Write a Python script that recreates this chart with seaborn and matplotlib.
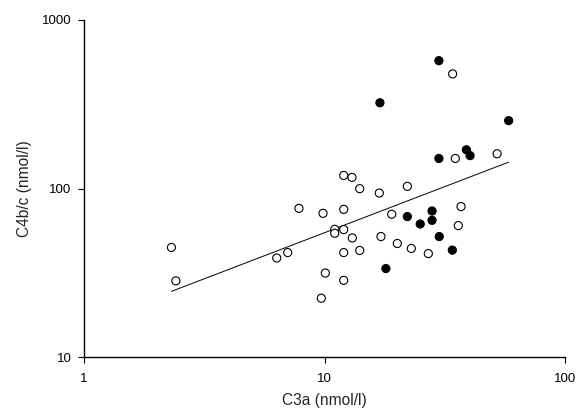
import matplotlib
matplotlib.use("Agg")
import matplotlib.pyplot as plt
import seaborn as sns
import pandas as pd
from matplotlib.ticker import FixedLocator, NullLocator, FixedFormatter

# Data
open_x = [2.31, 2.41, 6.33, 7.03, 7.83, 9.86, 9.70, 10.08, 11.03, 11.03,
          12.02, 13.01, 14.01, 12.02, 12.02, 13.05, 12.02, 14.01, 12.02,
          16.9, 17.17, 19.03, 22.1, 20.08, 22.96, 27.02, 36.95, 36.0,
          34.99, 52.2, 34.1]
open_y = [44.8, 28.4, 38.8, 41.8, 76.4, 71.4, 22.4, 31.6, 57.4, 54.4,
          119.8, 116.6, 100.0, 75.4, 57.2, 51.0, 41.8, 43.0, 28.6,
          94.2, 52.0, 70.5, 103.2, 47.3, 44.2, 41.2, 78.3, 60.4,
          151.0, 161.0, 479.0]
filled_x = [29.9, 17.0, 58.3, 29.9, 38.9, 40.3, 22.1, 25.0, 28.0, 28.0,
            30.0, 34.0, 18.0]
filled_y = [574.0, 323.0, 253.0, 151.0, 170.0, 157.0, 68.3, 61.7, 73.7,
            64.9, 52.0, 43.2, 33.6]
fit_x = [2.31, 58.3]
fit_y = [24.6, 143.6]

x_ticks = [1, 10, 100]
x_ticklabels = ["1", "10", "100"]
y_ticks = [10, 100, 1000]
y_ticklabels = ["10", "100", "1000"]

sns.set_style("white")
plt.rcParams["font.family"] = ["Liberation Sans", "DejaVu Sans"]

df = pd.DataFrame({
    "x": open_x + filled_x,
    "y": open_y + filled_y,
    "group": ["open"] * len(open_x) + ["filled"] * len(filled_x),
})
fit_df = pd.DataFrame({"x": fit_x, "y": fit_y})

fig = plt.figure(figsize=(5.88, 4.11), dpi=100)
ax = fig.add_axes([84 / 588, 1 - 357.3 / 411, (565 - 84) / 588, (357.3 - 20) / 411])

sns.lineplot(data=fit_df, x="x", y="y", ax=ax, color="black", linewidth=0.7,
             legend=False)
sns.scatterplot(data=df, x="x", y="y", hue="group",
                palette={"open": "white", "filled": "black"},
                edgecolor="black", linewidth=0.8, s=34, ax=ax, legend=False,
                zorder=3)

ax.set_xscale("log")
ax.set_yscale("log")
ax.set_xlim(1, 100)
ax.set_ylim(10, 1000)

ax.xaxis.set_major_locator(FixedLocator(x_ticks))
ax.xaxis.set_major_formatter(FixedFormatter(x_ticklabels))
ax.yaxis.set_major_locator(FixedLocator(y_ticks))
ax.yaxis.set_major_formatter(FixedFormatter(y_ticklabels))
ax.xaxis.set_minor_locator(NullLocator())
ax.yaxis.set_minor_locator(NullLocator())

for side in ["top", "right"]:
    ax.spines[side].set_visible(False)
for side in ["left", "bottom"]:
    ax.spines[side].set_color("black")
    ax.spines[side].set_linewidth(1.0)

ax.tick_params(axis="both", which="major", direction="out", length=4,
               width=0.8, color="black", labelsize=9.5, labelcolor="black",
               bottom=True, left=True)
ax.tick_params(axis="x", pad=7)
ax.tick_params(axis="y", pad=5)

ax.set_xlabel("C3a (nmol/l)", fontsize=11.2, labelpad=6)
ax.set_ylabel("C4b/c (nmol/l)", fontsize=11.2, labelpad=7)

fig.savefig("out.png", dpi=100, facecolor="white")
